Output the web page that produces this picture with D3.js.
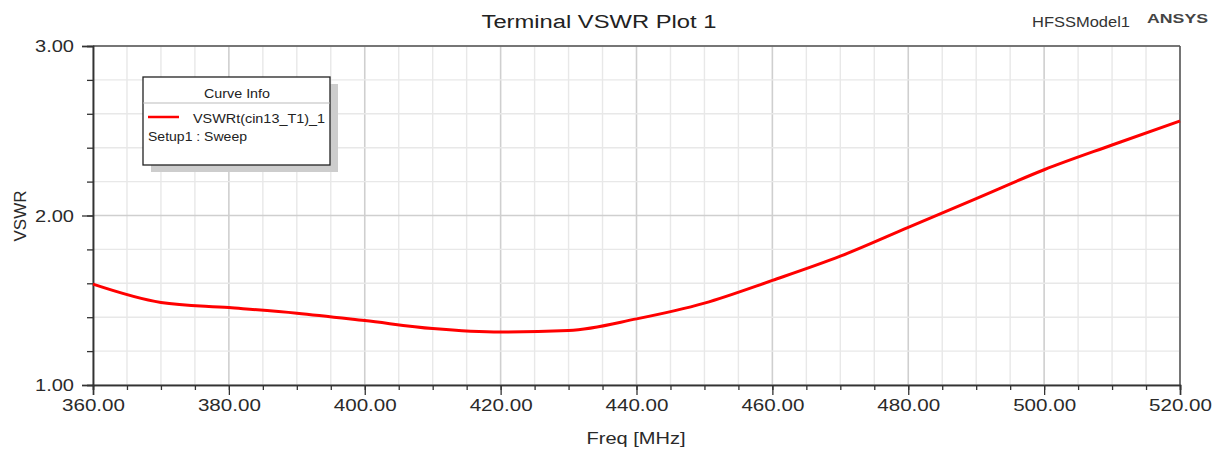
<!DOCTYPE html>
<html>
<head>
<meta charset="utf-8">
<script src="https://cdn.jsdelivr.net/npm/d3@7"></script>
<style>
  html, body { margin: 0; padding: 0; background: #fff; }
  text { font-family: "Liberation Sans", Arial, sans-serif; }
</style>
</head>
<body>
<svg id="chart" width="1213" height="450"></svg>
<script>
// ---- data ----
const freqs = [360, 370, 380, 390, 400, 410, 420, 430, 440, 450, 460, 470, 480, 490, 500, 510, 520];
const vswr  = [1.595, 1.487, 1.457, 1.424, 1.38, 1.333, 1.312, 1.321, 1.39, 1.483, 1.617, 1.76, 1.93, 2.10, 2.27, 2.416, 2.558];
const xMajorTicks = [360, 380, 400, 420, 440, 460, 480, 500, 520];
const xMinorTicks = d3.range(360, 521, 5);
const yMajorTicks = [1.0, 2.0, 3.0];
const yMinorTicks = d3.range(1.0, 3.001, 0.2);
const titleText = "Terminal VSWR Plot 1";
const modelText = "HFSSModel1";
const brandText = "ANSYS";
const xLabel = "Freq [MHz]";
const yLabel = "VSWR";
const legendTitle = "Curve Info";
const seriesName = "VSWRt(cin13_T1)_1";
const seriesSub = "Setup1 : Sweep";

// ---- layout ----
const svg = d3.select("#chart");
const L = 93, R = 1180, T = 46, B = 385;
const x = d3.scaleLinear().domain([360, 520]).range([L, R]);
const y = d3.scaleLinear().domain([1, 3]).range([B, T]);

// grid
const grid = svg.append("g");
grid.selectAll("line.vx").data(xMinorTicks).join("line")
  .attr("x1", d => x(d)).attr("x2", d => x(d)).attr("y1", T).attr("y2", B)
  .attr("stroke", d => (d % 20 === 0) ? "#cfcfcf" : "#e8e8e8")
  .attr("stroke-width", d => (d % 20 === 0) ? 1.6 : 1.4);
grid.selectAll("line.hy").data(yMinorTicks).join("line")
  .attr("x1", L).attr("x2", R).attr("y1", d => y(d)).attr("y2", d => y(d))
  .attr("stroke", d => (Math.abs(d - Math.round(d)) < 1e-6) ? "#cfcfcf" : "#e8e8e8")
  .attr("stroke-width", d => (Math.abs(d - Math.round(d)) < 1e-6) ? 1.6 : 1.4);

// frame (top, right)
svg.append("line").attr("x1", L).attr("x2", R).attr("y1", T).attr("y2", T)
  .attr("stroke", "#555").attr("stroke-width", 1.5);
svg.append("line").attr("x1", R).attr("x2", R).attr("y1", T).attr("y2", B)
  .attr("stroke", "#555").attr("stroke-width", 1.5);

// axes
const xMinorAxis = d3.axisBottom(x).tickValues(xMinorTicks).tickSize(5).tickFormat("");
const xMajorAxis = d3.axisBottom(x).tickValues(xMajorTicks).tickSize(10).tickFormat(d3.format(".2f"));
const yMinorAxis = d3.axisLeft(y).tickValues(yMinorTicks).tickSize(6).tickFormat("");
const yMajorAxis = d3.axisLeft(y).tickValues(yMajorTicks).tickSize(11).tickFormat(d3.format(".2f"));

function styleAxis(g) {
  g.select(".domain").attr("stroke", "#333").attr("stroke-width", 1.5);
  g.selectAll(".tick line").attr("stroke", "#333").attr("stroke-width", 1.3);
}
const gxm = svg.append("g").attr("transform", `translate(0,${B})`).call(xMinorAxis); styleAxis(gxm);
const gxM = svg.append("g").attr("transform", `translate(0,${B})`).call(xMajorAxis); styleAxis(gxM);
gxM.selectAll(".tick text")
  .attr("y", 15).attr("dy", "0.71em")
  .attr("font-size", 16).attr("fill", "#2a2a2a")
  .attr("font-family", "Liberation Sans, Arial, sans-serif")
  .attr("textLength", 63).attr("lengthAdjust", "spacingAndGlyphs");
const gym = svg.append("g").attr("transform", `translate(${L},0)`).call(yMinorAxis); styleAxis(gym);
const gyM = svg.append("g").attr("transform", `translate(${L},0)`).call(yMajorAxis); styleAxis(gyM);
gyM.selectAll(".tick text")
  .attr("x", -19).attr("dy", "0.36em")
  .attr("font-size", 16).attr("fill", "#2a2a2a")
  .attr("font-family", "Liberation Sans, Arial, sans-serif")
  .attr("textLength", 39).attr("lengthAdjust", "spacingAndGlyphs");

// curve
const line = d3.line().x((d, i) => x(freqs[i])).y(d => y(d)).curve(d3.curveMonotoneX);
svg.append("path").datum(vswr)
  .attr("d", line).attr("fill", "none")
  .attr("stroke", "#ff0000").attr("stroke-width", 3).attr("stroke-linejoin", "round");

// titles
svg.append("text").attr("x", 599).attr("y", 28).attr("text-anchor", "middle")
  .attr("font-size", 18).attr("fill", "#222")
  .attr("textLength", 235).attr("lengthAdjust", "spacingAndGlyphs").text(titleText);
svg.append("text").attr("x", 1032).attr("y", 27)
  .attr("font-size", 14).attr("fill", "#333")
  .attr("textLength", 98).attr("lengthAdjust", "spacingAndGlyphs").text(modelText);
svg.append("text").attr("x", 1147).attr("y", 23)
  .attr("font-size", 13).attr("font-weight", "bold").attr("fill", "#444")
  .attr("textLength", 61).attr("lengthAdjust", "spacingAndGlyphs").text(brandText);

// axis labels
svg.append("text").attr("x", 636).attr("y", 444).attr("text-anchor", "middle")
  .attr("font-size", 17).attr("fill", "#2a2a2a")
  .attr("textLength", 99).attr("lengthAdjust", "spacingAndGlyphs").text(xLabel);
svg.append("text").attr("transform", "translate(26,216) rotate(-90)").attr("text-anchor", "middle")
  .attr("font-size", 17).attr("fill", "#2a2a2a")
  .attr("textLength", 51).attr("lengthAdjust", "spacingAndGlyphs").text(yLabel);

// legend
const lg = svg.append("g");
const bx = 143, by = 77, bw = 187, bh = 88;
lg.append("rect").attr("x", bx + 8).attr("y", by + 7).attr("width", bw).attr("height", bh).attr("fill", "#cdcdcd");
lg.append("rect").attr("x", bx).attr("y", by).attr("width", bw).attr("height", bh)
  .attr("fill", "#fff").attr("stroke", "#222").attr("stroke-width", 1.3);
lg.append("line").attr("x1", bx).attr("x2", bx + bw).attr("y1", by + 26).attr("y2", by + 26)
  .attr("stroke", "#bbb").attr("stroke-width", 1);
lg.append("text").attr("x", 237).attr("y", 98).attr("text-anchor", "middle")
  .attr("font-size", 12).attr("fill", "#222")
  .attr("textLength", 66).attr("lengthAdjust", "spacingAndGlyphs").text(legendTitle);
lg.append("line").attr("x1", 148).attr("x2", 179).attr("y1", 117).attr("y2", 117)
  .attr("stroke", "#ff0000").attr("stroke-width", 2.5);
lg.append("text").attr("x", 193).attr("y", 123)
  .attr("font-size", 12).attr("fill", "#222")
  .attr("textLength", 132).attr("lengthAdjust", "spacingAndGlyphs").text(seriesName);
lg.append("text").attr("x", 148).attr("y", 141)
  .attr("font-size", 12).attr("fill", "#222")
  .attr("textLength", 99).attr("lengthAdjust", "spacingAndGlyphs").text(seriesSub);
</script>
</body>
</html>
